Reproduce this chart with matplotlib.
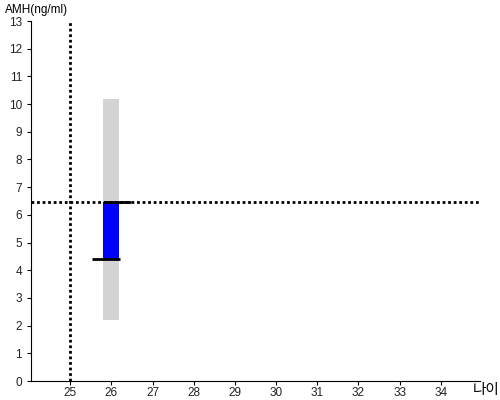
import matplotlib
matplotlib.use("Agg")
import matplotlib.pyplot as plt

plt.rcParams['font.family'] = ['Liberation Sans', 'Noto Sans CJK KR', 'DejaVu Sans']

age_ticks = list(range(25, 35))
y_ticks = list(range(0, 14))
patient_age = 25
patient_amh = 6.45
ref_age = 26
range_low, range_high = 2.2, 10.18
median_amh = 4.4
bar_width = 0.39

fig = plt.figure(figsize=(5, 4), dpi=100)
ax = fig.add_axes([0.062, 0.0475, 0.898, 0.9])

ax.bar([ref_age], [range_high - range_low], bottom=[range_low], width=bar_width,
       color='#d3d3d3', zorder=1)
ax.bar([ref_age], [patient_amh - median_amh], bottom=[median_amh], width=bar_width,
       color='#0000ff', zorder=2)
ax.hlines(patient_amh, ref_age - 0.175, ref_age + 0.48, color='black', lw=2, zorder=3)
ax.hlines(median_amh, ref_age - 0.47, ref_age + 0.21, color='black', lw=2, zorder=3)

ax.axhline(patient_amh, color='black', lw=2, ls=(0, (1, 1)), zorder=4)
ax.axvline(patient_age, color='black', lw=2, ls=(0, (1, 1)), zorder=4)

ax.set_xlim(24.05, 34.95)
ax.set_ylim(0, 13)
ax.set_xticks(age_ticks)
ax.set_yticks(y_ticks)
ax.tick_params(labelsize=8.5, length=3, colors='black')
ax.tick_params(axis='x', pad=1.5)
for lbl in ax.get_xticklabels() + ax.get_yticklabels():
    lbl.set_color('#222222')
ax.spines['top'].set_visible(False)
ax.spines['right'].set_visible(False)

fig.text(0.01, 0.975, 'AMH(ng/ml)', fontsize=8.5, ha='left', va='center')
fig.text(0.945, 0.024, '나이', fontsize=10.5, ha='left', va='center',
         family=['Noto Sans CJK KR', 'DejaVu Sans'])

fig.savefig('out.png', dpi=100)
